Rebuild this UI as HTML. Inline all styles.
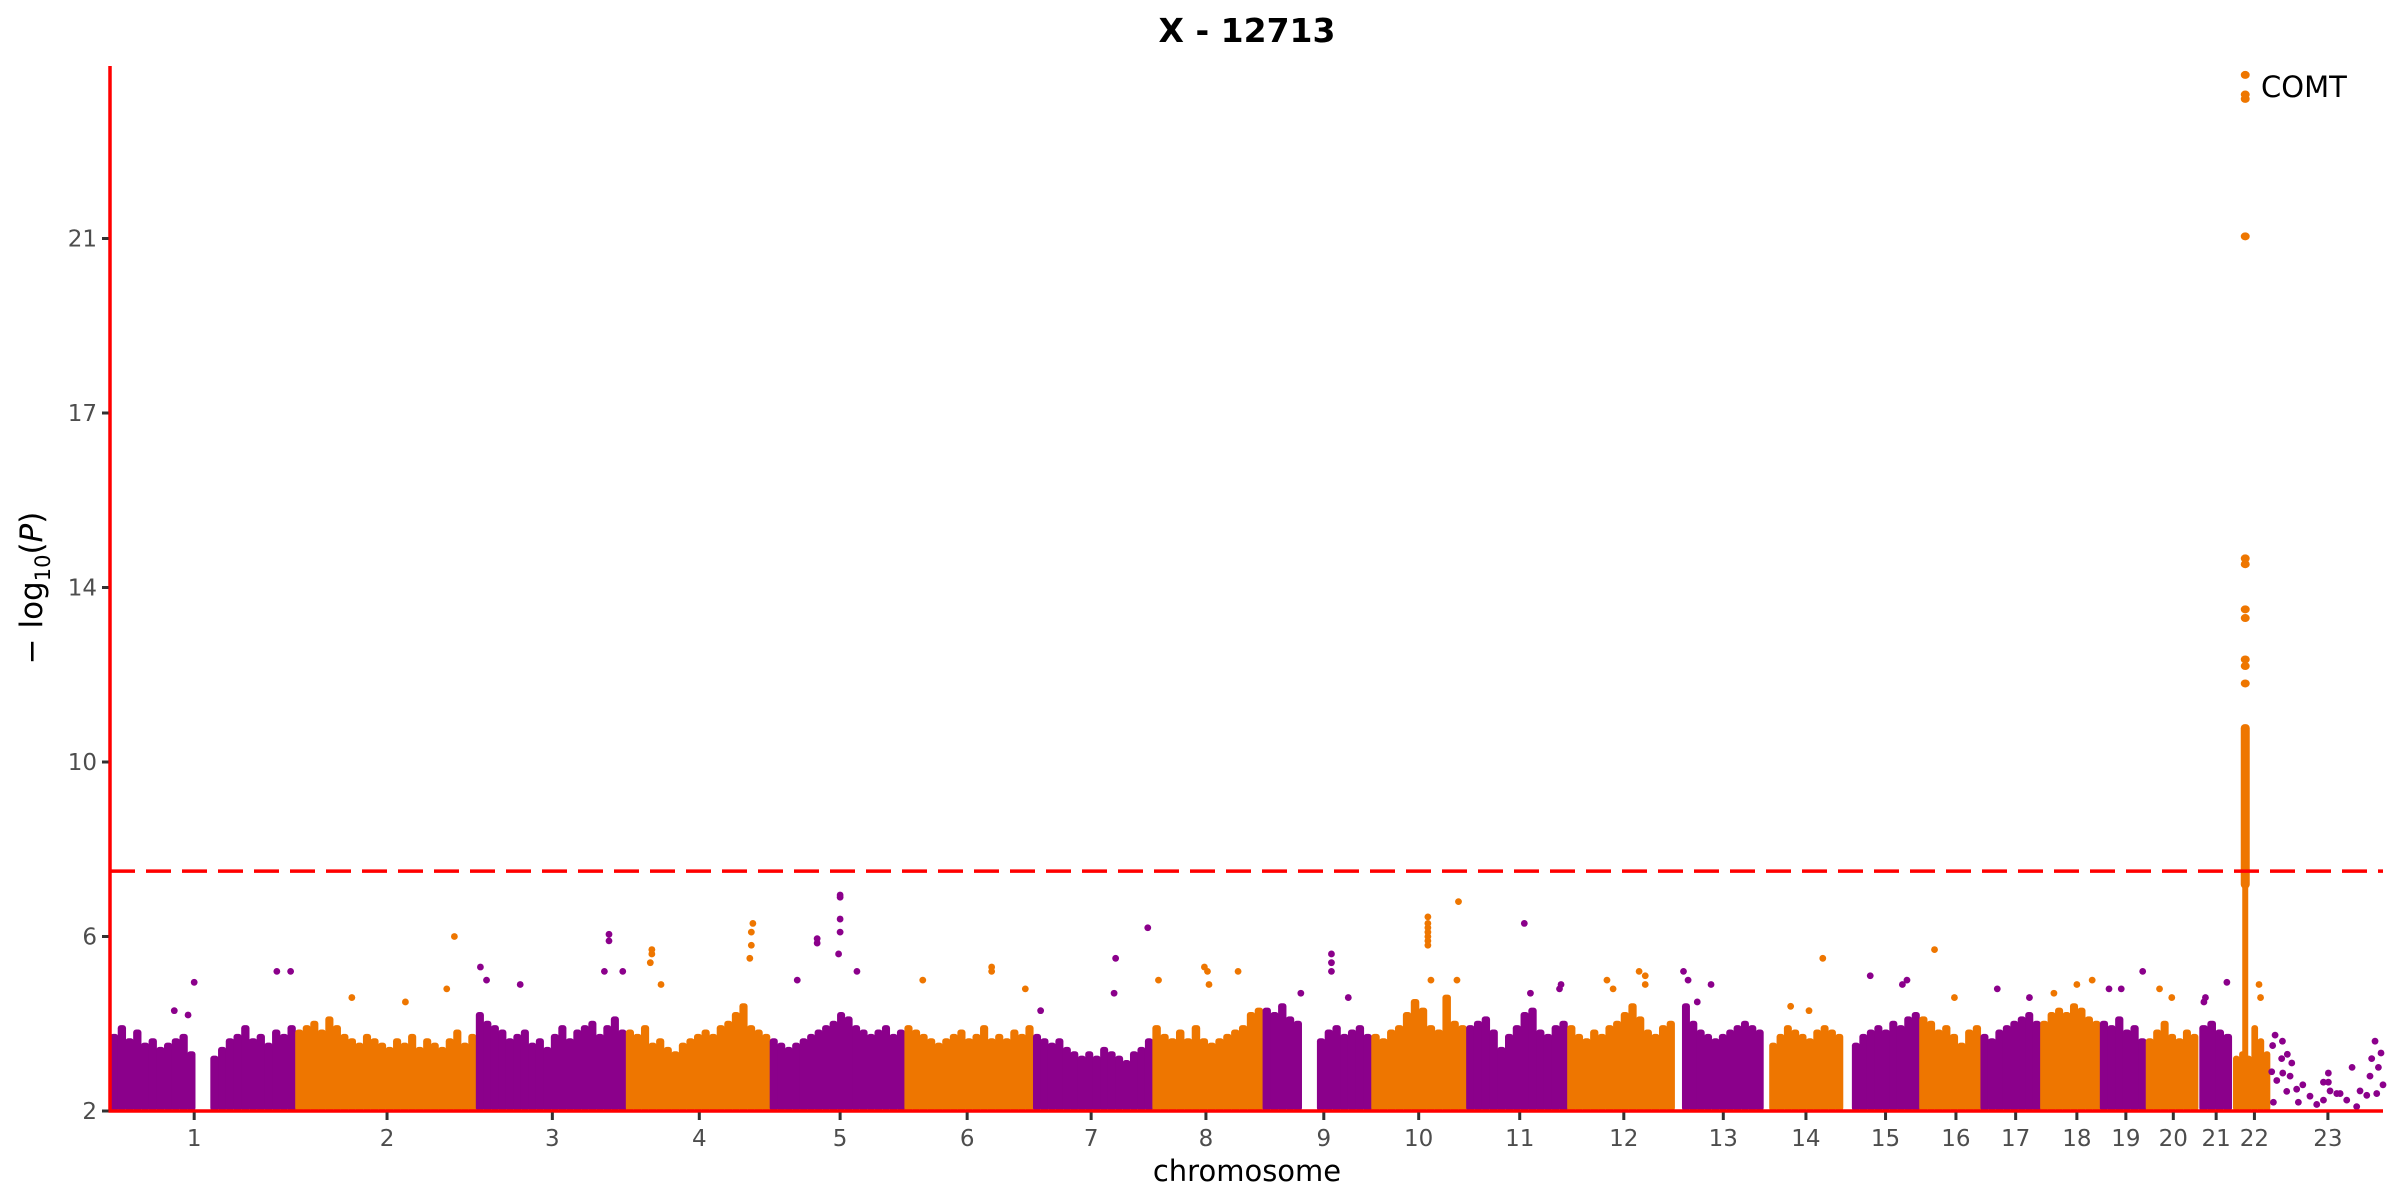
<!DOCTYPE html>
<html><head><meta charset="utf-8">
<style>
html,body{margin:0;padding:0;background:#fff;}
svg{display:block;font-family:"DejaVu Sans","Liberation Sans",sans-serif;}
</style></head>
<body>
<svg id="chart" width="2400" height="1200" viewBox="0 0 2400 1200" xmlns="http://www.w3.org/2000/svg">
  <text x="1247" y="42" text-anchor="middle" font-size="33" font-weight="bold" fill="#000">X - 12713</text>
  <g id="marks"></g>
  <g id="axes"></g>
  <text x="1247" y="1181" text-anchor="middle" font-size="29" fill="#000">chromosome</text>
  <text transform="translate(42,588) rotate(-90)" text-anchor="middle" font-size="31" fill="#000">− log<tspan font-size="21" dy="8">10</tspan><tspan dy="-8">(</tspan><tspan font-style="italic">P</tspan>)</text>
  <text x="2261" y="97" font-size="29" fill="#000">COMT</text>
</svg>
<script>
// ---- data ----
const yTickLabels = [2, 6, 10, 14, 17, 21];
const xTickLabels = ["1","2","3","4","5","6","7","8","9","10","11","12","13","14","15","16","17","18","19","20","21","22","23"];
const xTickPos = [127,253,361,457,549,632,713,788,865,927,993,1061,1126,1180,1232,1278,1317,1357,1389,1420,1448,1473,1521];
const chrStart = [72,193,311,409,503,591,675,753,825,896,958,1024,1099,1156,1210,1254,1294,1333,1372,1402,1437,1459,1484];
const chrEnd   = [193,311,409,503,591,675,753,825,896,958,1024,1094,1152,1204,1254,1294,1333,1372,1402,1436,1458,1483,1557];
const threshold = 7.5;
const env1 = [3.7,3.9,3.6,3.8,3.5,3.6,3.4,3.5,3.6,3.7,3.3,0,0,3.2,3.4,3.6,3.7,3.9,3.6,3.7,3.5,3.8,3.7,3.9];
const env2 = [3.8,3.9,4.0,3.8,4.1,3.9,3.7,3.6,3.5,3.7,3.6,3.5,3.4,3.6,3.5,3.7,3.4,3.6,3.5,3.4,3.6,3.8,3.5,3.7];
const env3 = [4.2,4.0,3.9,3.8,3.6,3.7,3.8,3.5,3.6,3.4,3.7,3.9,3.6,3.8,3.9,4.0,3.7,3.9,4.1,3.8];
const env4 = [3.8,3.7,3.9,3.5,3.6,3.4,3.3,3.5,3.6,3.7,3.8,3.7,3.9,4.0,4.2,4.4,3.9,3.8,3.7];
const env5 = [3.6,3.5,3.4,3.5,3.6,3.7,3.8,3.9,4.0,4.2,4.1,3.9,3.8,3.7,3.8,3.9,3.7,3.8];
const env6 = [3.9,3.8,3.7,3.6,3.5,3.6,3.7,3.8,3.6,3.7,3.9,3.6,3.7,3.6,3.8,3.7,3.9];
const env7 = [3.7,3.6,3.5,3.6,3.4,3.3,3.2,3.3,3.2,3.4,3.3,3.2,3.1,3.3,3.4,3.6];
const env8 = [3.9,3.7,3.6,3.8,3.6,3.9,3.6,3.5,3.6,3.7,3.8,3.9,4.2,4.3];
const env9 = [4.3,4.2,4.4,4.1,4.0,0,0,3.6,3.8,3.9,3.7,3.8,3.9,3.7];
const env10 = [3.7,3.6,3.8,3.9,4.2,4.5,4.3,3.9,3.8,4.6,4.0,3.9];
const env11 = [3.9,4.0,4.1,3.8,3.4,3.7,3.9,4.2,4.3,3.8,3.7,3.9,4.0];
const env12 = [3.9,3.7,3.6,3.8,3.7,3.9,4.0,4.2,4.4,4.1,3.8,3.7,3.9,4.0];
const env13 = [4.4,4.0,3.8,3.7,3.6,3.7,3.8,3.9,4.0,3.9,3.8];
const env14 = [3.5,3.7,3.9,3.8,3.7,3.6,3.8,3.9,3.8,3.7];
const env15 = [3.5,3.7,3.8,3.9,3.8,4.0,3.9,4.1,4.2];
const env16 = [4.1,4.0,3.8,3.9,3.7,3.5,3.8,3.9];
const env17 = [3.7,3.6,3.8,3.9,4.0,4.1,4.2,4.0];
const env18 = [4.0,4.2,4.3,4.2,4.4,4.3,4.1,4.0];
const env19 = [4.0,3.9,4.1,3.8,3.9,3.6];
const env20 = [3.6,3.8,4.0,3.7,3.6,3.8,3.7];
const env21 = [3.9,4.0,3.8,3.7];
const env22 = [3.2,3.3,3.2,3.9,3.6,3.3];
const env23 = [];
const envelopes = [env1,env2,env3,env4,env5,env6,env7,env8,env9,env10,env11,env12,env13,env14,env15,env16,env17,env18,env19,env20,env21,env22,env23];
// scattered SNPs: chromosome, position, -log10P
const peakChr = [1,1,1,1,1, 2,2,2,2, 3,3,3,3,3,3,3, 4,4,4,4,4,4,4,4, 5,5,5,5,5,5,5,5,5, 6,6,6,6, 7,7,7,7, 8,8,8,8,8, 9,9,9,9,9, 10,10,10,10,10,10,10,10,10,10, 11,11,11,11, 12,12,12,12,12, 13,13,13,13, 14,14,14, 15,15,15, 16,16, 17,17, 18,18,18, 19,19,19, 20,20, 21,21,21, 22,22];
const peakPos = [127,181,190,114,123, 297,292,265,230, 314,318,340,398,398,395,407, 426,426,425,432,492,491,491,490, 521,534,534,549,549,549,549,548,560, 603,648,648,670, 729,728,680,750, 757,787,789,809,790, 870,870,870,881,850, 933,933,933,933,933,933,933,953,952,935, 996,1020,1019,1000, 1050,1071,1075,1075,1054, 1100,1103,1118,1109, 1191,1170,1182, 1222,1246,1243, 1264,1277, 1305,1326, 1357,1367,1342, 1400,1378,1386, 1411,1419, 1455,1441,1440, 1476,1477];
const peakVal = [4.95,5.2,5.2,4.3,4.2, 6.0,4.8,4.5,4.6, 5.3,5.0,4.9,6.05,5.9,5.2,5.2, 5.7,5.6,5.4,4.9,6.3,6.1,5.8,5.5, 5.0,5.95,5.85,6.95,6.9,6.4,6.1,5.6,5.2, 5.0,5.3,5.2,4.8, 5.5,4.7,4.3,6.2, 5.0,5.3,5.2,5.2,4.9, 5.6,5.4,5.2,4.6,4.7, 6.45,6.3,6.2,6.1,6.0,5.9,5.8,6.8,5.0,5.0, 6.3,4.9,4.8,4.7, 5.0,5.2,5.1,4.9,4.8, 5.2,5.0,4.9,4.5, 5.5,4.4,4.3, 5.1,5.0,4.9, 5.7,4.6, 4.8,4.6, 4.9,5.0,4.7, 5.2,4.8,4.8, 4.8,4.6, 4.95,4.6,4.5, 4.9,4.6];
// chromosome 23 sparse SNPs
const chr23Pos = [1486.5,1491.3,1484.9,1494.5,1490.8,1497.4,1491.5,1496.3,1504.6,1500.6,1494.1,1509.3,1518.1,1521.3,1529,1522.4,1536.8,1542,1551.8,1555.7,1549.6,1548.5,1554,1552.9,1557,1533.3,1539.8,1513.7,1501.7,1485.4,1487.6,1484.3,1526.8,1546.4,1521.3,1518.1];
const chr23Val = [3.74,3.6,3.5,3.3,3.2,3.1,2.87,2.8,2.6,2.5,2.45,2.34,2.25,2.87,2.4,2.46,3.0,2.46,3.6,3.33,3.2,2.8,3.0,2.4,2.6,2.25,2.1,2.15,2.2,2.2,2.7,2.9,2.4,2.36,2.66,2.66];
// COMT locus on chr 22
const comtPos = 1467;
const comtDenseTop = 10.8;
const comtLowTop = 7.2;
const comtVals = [11.8,12.2,12.35,13.3,13.5,14.4,14.5,21.05,24.2,24.3,24.75];

// ---- scales ----
const X0 = 110, X1 = 2383, D0 = 72, D1 = 1557;
const YBASE = 1111, YSTEP = 174.5;
function xs(d){ return X0 + (d - D0) * (X1 - X0) / (D1 - D0); }
function ys(v){
  for (let i = 0; i < yTickLabels.length - 1; i++){
    if (v <= yTickLabels[i+1]) {
      const a = yTickLabels[i], b = yTickLabels[i+1];
      return YBASE - (i + (v - a) / (b - a)) * YSTEP;
    }
  }
  const n = yTickLabels.length - 1;
  const a = yTickLabels[n-1], b = yTickLabels[n];
  return YBASE - (n + (v - b) / (b - a)) * YSTEP;
}
const NS = "http://www.w3.org/2000/svg";
const marks = document.getElementById('marks');
const axes = document.getElementById('axes');
function mk(tag, attrs, parent){
  const e = document.createElementNS(NS, tag);
  for (const k in attrs) e.setAttribute(k, attrs[k]);
  parent.appendChild(e);
  return e;
}
const PURPLE = "#8B008B", ORANGE = "#EE7600";
function col(c){ return c % 2 === 1 ? PURPLE : ORANGE; }

// dense envelopes
envelopes.forEach((env, ci) => {
  const c = ci + 1;
  const g = mk('g', {}, marks);
  
  
  const n = env.length;
  for (let i = 0; i < n; i++){
    if (!env[i]) continue;
    const a = chrStart[ci] + (chrEnd[ci] - chrStart[ci]) * i / n;
    const b = chrStart[ci] + (chrEnd[ci] - chrStart[ci]) * (i + 1) / n;
    const yt = ys(env[i]);
    const r = mk('rect', {x: xs(a), y: yt - 3, width: xs(b) - xs(a) + 0.6, height: YBASE - yt + 3, rx: 3, fill: col(c)}, g);
    
    
  }
});
// scattered peaks
peakChr.forEach((c, i) => {
  const p = mk('circle', {cx: xs(peakPos[i]), cy: ys(peakVal[i]), r: 3.4, fill: col(c)}, marks);
  
  
});
chr23Pos.forEach((d, i) => {
  const p = mk('circle', {cx: xs(d), cy: ys(chr23Val[i]), r: 3.4, fill: PURPLE}, marks);
  
  
});
// COMT column
const low = mk('rect', {x: xs(comtPos) - 3, y: ys(comtLowTop), width: 6, height: YBASE - ys(comtLowTop), rx: 3, fill: ORANGE}, marks);


const hi = mk('rect', {x: xs(comtPos) - 4.5, y: ys(comtDenseTop) - 3, width: 9, height: ys(threshold - 0.4) - ys(comtDenseTop) + 3, rx: 4, fill: ORANGE}, marks);


comtVals.forEach(v => {
  const p = mk('ellipse', {cx: xs(comtPos), cy: ys(v), rx: 4.5, ry: 4, fill: ORANGE}, marks);
  
  
});

// threshold line
const th = mk('line', {x1: X0, x2: X1, y1: ys(threshold), y2: ys(threshold), stroke: "#FF0000", 'stroke-width': 3.5, 'stroke-dasharray': "25,11"}, axes);


// axis lines
const yl = mk('line', {x1: X0, x2: X0, y1: 66, y2: YBASE + 1.5, stroke: "#FF0000", 'stroke-width': 3.5}, axes);


const xl = mk('line', {x1: X0 - 1.5, x2: X1, y1: YBASE, y2: YBASE, stroke: "#FF0000", 'stroke-width': 3.5}, axes);


// y ticks
yTickLabels.forEach(v => {
  const y = ys(v);
  const t = mk('line', {x1: X0 - 8, x2: X0 - 1.5, y1: y, y2: y, stroke: "#333", 'stroke-width': 3}, axes);
  
  
  const l = mk('text', {x: X0 - 13, y: y + 8, 'text-anchor': 'end', 'font-size': 23, fill: '#4d4d4d'}, axes);
  l.textContent = v;
  
  
});
// x ticks
xTickPos.forEach((d, i) => {
  const x = xs(d);
  const t = mk('line', {x1: x, x2: x, y1: YBASE + 1.5, y2: YBASE + 9, stroke: "#333", 'stroke-width': 3}, axes);
  
  
  const l = mk('text', {x: x, y: YBASE + 35, 'text-anchor': 'middle', 'font-size': 23, fill: '#4d4d4d'}, axes);
  l.textContent = xTickLabels[i];
  
  
});
</script>
</body></html>
